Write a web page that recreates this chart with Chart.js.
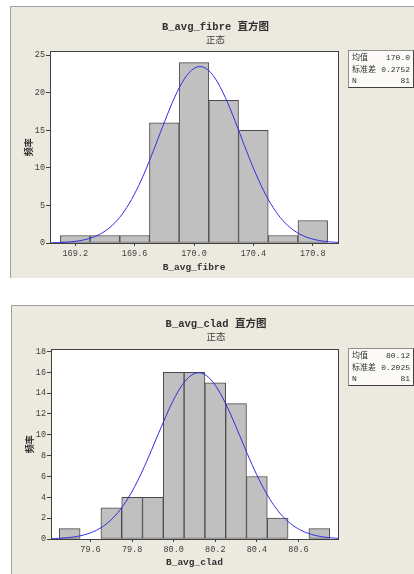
<!DOCTYPE html>
<html>
<head>
<meta charset="utf-8">
<script src="https://cdn.jsdelivr.net/npm/chart.js@4.4.1/dist/chart.umd.min.js"></script>
<style>
  html, body { margin: 0; padding: 0; background: #fff; overflow: hidden; }
  canvas { position: absolute; }
  #fibre { left: 10px; top: 6px; }
  #clad { left: 11px; top: 305px; }
</style>
</head>
<body>
<canvas id="fibre" width="411" height="272"></canvas>
<canvas id="clad" width="410" height="269"></canvas>
<script>
// histogram 1: B_avg_fibre (bin width 0.2)
const fibreBins = [169.2, 169.4, 169.6, 169.8, 170.0, 170.2, 170.4, 170.6, 170.8];
const fibreCounts = [1, 1, 1, 16, 24, 19, 15, 1, 3];
const fibreTicksX = [169.2, 169.6, 170.0, 170.4, 170.8];
const fibreTicksY = [0, 5, 10, 15, 20, 25];
const fibreMean = 170.04, fibreSd = 0.2752, fibreN = 81;

// histogram 2: B_avg_clad (bin width 0.1)
const cladBins = [79.5, 79.6, 79.7, 79.8, 79.9, 80.0, 80.1, 80.2, 80.3, 80.4, 80.5, 80.6, 80.7];
const cladCounts = [1, 0, 3, 4, 4, 16, 16, 15, 13, 6, 2, 0, 1];
const cladTicksX = [79.6, 79.8, 80.0, 80.2, 80.4, 80.6];
const cladTicksY = [0, 2, 4, 6, 8, 10, 12, 14, 16, 18];
const cladMean = 80.12, cladSd = 0.2025, cladN = 81;

const statLabels = ['均值', '标准差', 'N'];

const MONO = "'Liberation Mono', 'DejaVu Sans Mono', 'Noto Sans CJK SC', monospace";

// fitted normal curve that Minitab overlays (from the shown mean / st.dev / N)
function normalCurve(mean, sd, n, bw, xmin, xmax) {
  const pts = [];
  const steps = 120;
  for (let i = 0; i <= steps; i++) {
    const x = xmin + (xmax - xmin) * i / steps;
    const z = (x - mean) / sd;
    pts.push({ x: x, y: n * bw / (sd * Math.sqrt(2 * Math.PI)) * Math.exp(-0.5 * z * z) });
  }
  return pts;
}

const panelPlugin = {
  id: 'panel',
  beforeDraw(chart) {
    const ctx = chart.ctx, a = chart.chartArea;
    ctx.save();
    ctx.fillStyle = '#ece9df';
    ctx.fillRect(0, 0, chart.width, chart.height);
    ctx.strokeStyle = '#a0a0a0';
    ctx.lineWidth = 1;
    ctx.beginPath();
    ctx.moveTo(0.5, chart.height);
    ctx.lineTo(0.5, 0.5);
    ctx.lineTo(chart.width, 0.5);
    ctx.stroke();
    ctx.fillStyle = '#ffffff';
    ctx.fillRect(a.left, a.top, a.right - a.left, a.bottom - a.top);
    ctx.restore();
  },
  afterDraw(chart, args, opts) {
    const ctx = chart.ctx, a = chart.chartArea;
    ctx.save();
    ctx.strokeStyle = '#404040';
    ctx.lineWidth = 1;
    ctx.strokeRect(Math.round(a.left) + 0.5, Math.round(a.top) + 0.5,
      Math.round(a.right - a.left), Math.round(a.bottom - a.top));
    // stats box
    const bx = Math.round(a.right) + 10, by = Math.round(a.top) - 1, bw = 65, bh = 37;
    ctx.fillStyle = '#fbfaf6';
    ctx.fillRect(bx, by, bw, bh);
    ctx.strokeStyle = '#909090';
    ctx.strokeRect(bx + 0.5, by + 0.5, bw, bh);
    ctx.strokeStyle = '#404040';
    ctx.beginPath();
    ctx.moveTo(bx + bw + 0.5, by + 0.5);
    ctx.lineTo(bx + bw + 0.5, by + bh + 0.5);
    ctx.lineTo(bx + 0.5, by + bh + 0.5);
    ctx.stroke();
    ctx.font = "8px " + MONO;
    ctx.fillStyle = '#303030';
    ctx.textBaseline = 'middle';
    const rows = [8, 20, 31];
    opts.values.forEach((v, i) => {
      ctx.textAlign = 'left';
      ctx.fillText(statLabels[i], bx + 4, by + rows[i]);
      ctx.textAlign = 'right';
      ctx.fillText(v, bx + bw - 3, by + rows[i]);
    });
    ctx.restore();
  }
};

function makeHistogram(id, cfg) {
  return new Chart(document.getElementById(id), {
    type: 'bar',
    data: {
      datasets: [
        {
          type: 'line',
          data: normalCurve(cfg.mean, cfg.sd, cfg.n, cfg.bw, cfg.xmin, cfg.xmax),
          borderColor: '#2f2fe0',
          borderWidth: 1,
          pointRadius: 0,
          fill: false,
          tension: 0,
          order: 0
        },
        {
          data: cfg.bins.map((b, i) => ({ x: b, y: cfg.counts[i] })),
          backgroundColor: '#c0c0c0',
          borderColor: '#4a4a4a',
          borderWidth: 1,
          borderSkipped: false,
          barPercentage: 1,
          categoryPercentage: 1,
          order: 1
        }
      ]
    },
    options: {
      responsive: false,
      animation: false,
      events: [],
      layout: { padding: { top: cfg.padTop, left: 0, right: 0, bottom: 0 } },
      plugins: {
        legend: { display: false },
        tooltip: { enabled: false },
        title: {
          display: true,
          text: cfg.title,
          color: '#303030',
          font: { family: MONO, size: 10.5, weight: 'bold' },
          padding: 0
        },
        subtitle: {
          display: true,
          text: '正态',
          color: '#404040',
          font: { family: "'Noto Sans CJK SC', sans-serif", size: 9.5 },
          padding: { top: 0, bottom: cfg.subPad }
        },
        panel: { values: cfg.statValues }
      },
      scales: {
        x: {
          type: 'linear',
          min: cfg.xmin,
          max: cfg.xmax,
          offset: false,
          afterBuildTicks: s => { s.ticks = cfg.ticksX.map(v => ({ value: v })); },
          afterFit: s => { s.height = 35; },
          ticks: {
            callback: v => v.toFixed(1),
            color: '#404040',
            font: { family: MONO, size: 8.5 },
            padding: 3,
            maxRotation: 0,
            autoSkip: false
          },
          grid: { offset: false, drawOnChartArea: false, drawTicks: true, tickLength: 3, color: '#404040' },
          border: { display: false },
          title: {
            display: true,
            text: cfg.xTitle,
            color: '#303030',
            font: { family: MONO, size: 9.5, weight: 'bold' },
            padding: { top: 0, bottom: cfg.xTitlePad }
          }
        },
        y: {
          type: 'linear',
          position: 'left',
          min: 0,
          max: cfg.ymax,
          afterBuildTicks: s => { s.ticks = cfg.ticksY.map(v => ({ value: v })); },
          afterFit: s => { s.width = 40; },
          ticks: {
            color: '#404040',
            font: { family: MONO, size: 8.5 },
            padding: 1
          },
          grid: { drawOnChartArea: false, drawTicks: true, tickLength: 4, color: '#404040' },
          border: { display: false },
          title: {
            display: true,
            text: '频率',
            color: '#303030',
            font: { family: "'Noto Sans CJK SC', sans-serif", size: 9, weight: 'bold' },
            padding: { top: 13, bottom: 0 }
          }
        },
        r: {
          type: 'linear',
          position: 'right',
          grid: { display: false },
          ticks: { display: false },
          border: { display: false },
          afterFit: s => { s.width = cfg.rightW; }
        }
      }
    },
    plugins: [panelPlugin]
  });
}

makeHistogram('fibre', {
  title: 'B_avg_fibre 直方图', xTitle: 'B_avg_fibre',
  bins: fibreBins, counts: fibreCounts, ticksX: fibreTicksX, ticksY: fibreTicksY,
  mean: fibreMean, sd: fibreSd, n: fibreN, bw: 0.2,
  xmin: 169.03, xmax: 170.97, ymax: 25.5,
  statValues: [fibreMean.toFixed(1), fibreSd.toFixed(4), String(fibreN)],
  padTop: 15, subPad: 6.4, xTitlePad: 5, rightW: 83
});

makeHistogram('clad', {
  title: 'B_avg_clad 直方图', xTitle: 'B_avg_clad',
  bins: cladBins, counts: cladCounts, ticksX: cladTicksX, ticksY: cladTicksY,
  mean: cladMean, sd: cladSd, n: cladN, bw: 0.1,
  xmin: 79.41, xmax: 80.79, ymax: 18.2,
  statValues: [cladMean.toFixed(2), cladSd.toFixed(4), String(cladN)],
  padTop: 13, subPad: 7.4, xTitlePad: 6, rightW: 83
});
</script>
</body>
</html>
